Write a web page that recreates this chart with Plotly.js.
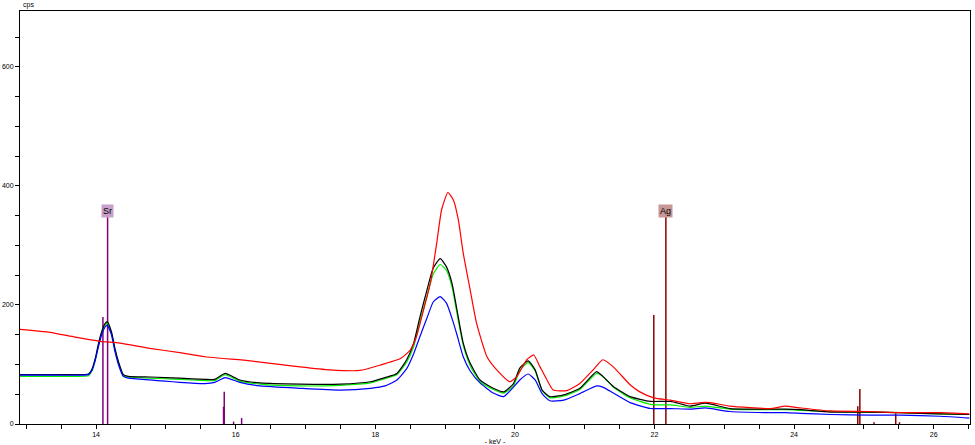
<!DOCTYPE html>
<html>
<head>
<meta charset="utf-8">
<script src="https://cdn.plot.ly/plotly-3.0.1.min.js"></script>
<style>html,body{margin:0;padding:0;background:#fff;}#chart{width:975px;height:445px;}</style>
</head>
<body>
<div id="chart"></div>
<script>
// Shared energy grid (keV) for the black, green and blue spectra
const energy = [12.91,13.34,13.70,13.89,13.94,13.99,14.03,14.08,14.13,14.16,14.22,14.27,14.32,14.39,14.46,14.77,14.99,15.20,15.56,15.70,15.85,16.06,16.35,16.92,17.50,17.93,18.14,18.31,18.45,18.55,18.64,18.74,18.83,18.93,19.02,19.10,19.17,19.26,19.36,19.50,19.69,19.84,19.98,20.07,20.19,20.29,20.39,20.50,20.70,20.93,21.17,21.26,21.41,21.65,21.94,22.23,22.51,22.73,23.08,23.66,23.87,24.09,24.52,25.09,25.52,26.09,26.51];
const countsBlack = [83,83,83,84,92,111,133,155,169,172,155,127,105,83,80,79,78,77,75,75,85,74,69,67,67,71,78,85,108,136,180,225,262,278,264,236,192,136,102,74,60,54,68,94,106,91,57,46,49,60,88,80,63,46,38,38,30,35,26,25,25,24,20,20,19,17,16];
const countsGreen = [80,80,80,81,89,108,130,152,166,170,153,125,103,81,79,77,76,75,73,73,83,72,67,64,65,69,76,83,104,130,172,215,252,268,258,230,186,132,98,71,58,52,64,90,103,89,56,44,47,58,85,80,62,44,33,32,28,30,25,24,24,23,21,20,19,17,16];
const countsBlue = [82,82,82,83,90,108,128,150,163,166,150,122,100,80,77,74,72,70,68,70,78,70,64,60,57,60,64,74,93,118,147,178,205,214,203,177,150,113,89,69,52,46,62,74,84,74,51,39,40,51,64,62,52,36,26,26,25,27,21,19,19,18,16,15,15,13,10];
// Red spectrum (own energy grid)
const energyRed = [12.91,13.34,13.70,14.06,14.34,14.77,15.20,15.56,16.21,16.92,17.35,17.78,18.07,18.36,18.50,18.59,18.69,18.79,18.88,18.95,19.04,19.12,19.19,19.26,19.36,19.45,19.60,19.74,19.93,20.03,20.17,20.27,20.36,20.46,20.55,20.74,20.93,21.12,21.26,21.41,21.65,21.79,21.99,22.23,22.51,22.66,22.80,23.08,23.66,23.87,24.09,24.52,25.09,25.52,26.09,26.51];
const countsRed = [159,154,146,139,136,127,120,113,106,96,91,90,99,110,124,147,191,237,304,360,389,376,343,287,225,170,113,91,71,80,108,116,96,74,57,56,68,91,108,96,66,54,44,40,34,36,36,30,26,30,27,22,21,19,19,17];
// Element marker lines
const srLines = [14.098,14.165,15.826,15.836,15.97,16.085];
const srHeights = [180,348,29,54,4,10];
const agLines = [21.99,22.163,24.912,24.942,25.145,25.456,25.51];
const agHeights = [183,348,30,59,3,18,3];
const labels = ["Sr","Ag"];
const labelEnergy = [14.165,22.163];
const labelHeight = [348,348];
const xTicks = [14,16,18,20,22,24,26];
const yTicks = [0,200,400,600];

function stems(xs, hs){
  const x=[], y=[];
  xs.forEach((e,i)=>{x.push(e,e,null); y.push(0,hs[i],null);});
  return {x,y};
}
const sr = stems(srLines, srHeights);
const ag = stems(agLines, agHeights);

const traces = [
  {x: sr.x, y: sr.y, mode:'lines', line:{color:'#800080', width:1.5}},
  {x: ag.x, y: ag.y, mode:'lines', line:{color:'#8B0000', width:1.5}},
  {x: energy, y: countsGreen, mode:'lines', line:{color:'#00ee00', width:1.2, shape:'spline', smoothing:0.5}},
  {x: energy, y: countsBlack, mode:'lines', line:{color:'#000000', width:1.2, shape:'spline', smoothing:0.5}},
  {x: energy, y: countsBlue, mode:'lines', line:{color:'#0000ff', width:1.2, shape:'spline', smoothing:0.5}},
  {x: energyRed, y: countsRed, mode:'lines', line:{color:'#ff0000', width:1.2, shape:'spline', smoothing:0.5}}
];

const tickFont = {family:'Liberation Sans, Arial, sans-serif', size:7, color:'#000'};
const annotations = labels.map((t,i)=>({
  x: labelEnergy[i], y: labelHeight[i], xref:'x', yref:'y', text:t, showarrow:false,
  xanchor:'center', yanchor:'bottom', yshift:-1,
  bgcolor: i===0 ? '#c9a0c9' : '#c89898',
  font:{family:'Liberation Sans, Arial, sans-serif', size:9, color:'#000'},
  borderpad:1
}));
annotations.push({x:0, y:1, xref:'paper', yref:'paper', text:'cps', showarrow:false,
  xanchor:'left', yanchor:'bottom', yshift:0, xshift:1,
  font:{family:'Liberation Sans, Arial, sans-serif', size:7, color:'#000'}});

const layout = {
  width:975, height:445,
  margin:{l:20, r:5, t:11, b:21, pad:0},
  paper_bgcolor:'#fff', plot_bgcolor:'#fff',
  showlegend:false, hovermode:false,
  xaxis:{range:[12.91,26.52], tickvals:xTicks, ticktext:xTicks.map(String), ticks:'outside', ticklen:4, tickcolor:'#000',
    showline:true, linecolor:'#000', linewidth:1, mirror:true, showgrid:false, zeroline:false,
    tickfont:tickFont, minor:{dtick:0.5, tick0:0, ticks:'outside', ticklen:4, tickcolor:'#000'},
    title:{text:'- keV -', font:{family:'Liberation Sans, Arial, sans-serif', size:7, color:'#000'}, standoff:2}},
  yaxis:{range:[0,694], tickvals:yTicks, ticktext:yTicks.map(String), ticks:'outside', ticklen:4, tickcolor:'#000',
    showline:true, linecolor:'#000', linewidth:1, mirror:true, showgrid:false, zeroline:false,
    tickfont:tickFont, minor:{dtick:50, tick0:0, ticks:'outside', ticklen:4, tickcolor:'#000'}},
  annotations: annotations
};
Plotly.newPlot('chart', traces, layout, {staticPlot:true, displayModeBar:false});
</script>
</body>
</html>
